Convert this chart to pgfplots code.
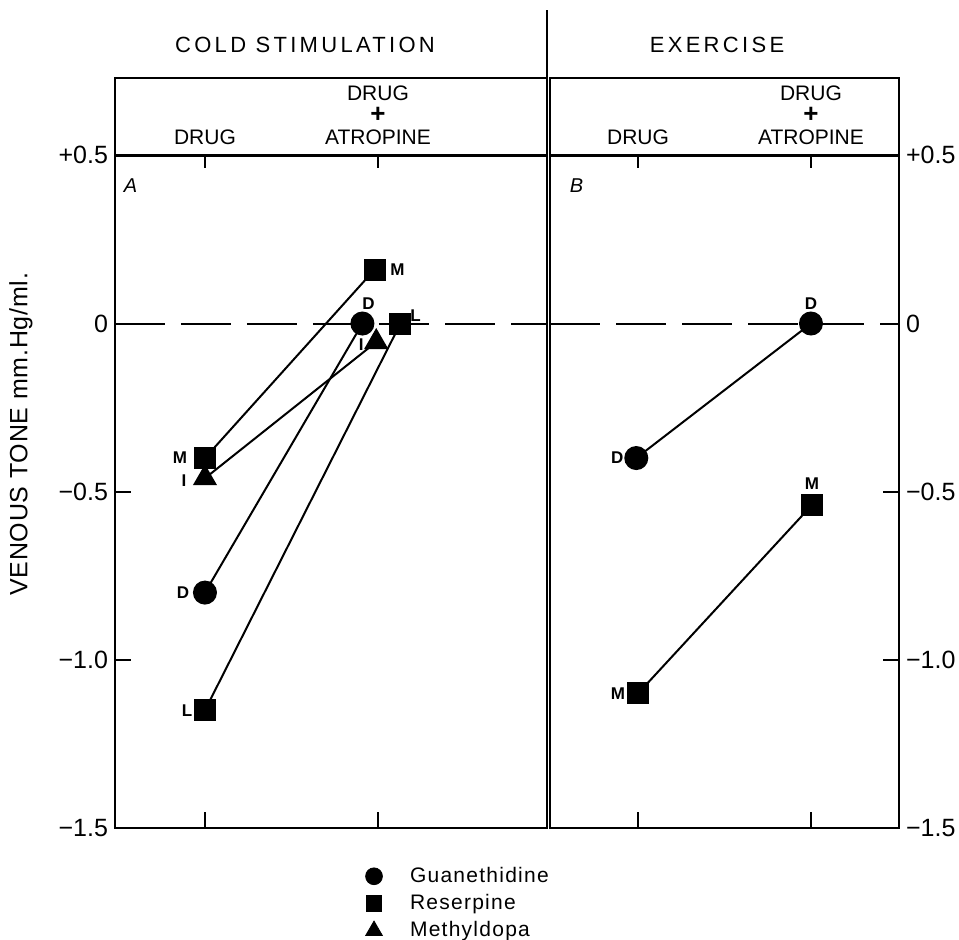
\documentclass[border=0pt]{standalone}
\usepackage{fontspec}
\setmainfont{Liberation Sans}
\newfontfamily\spaced[LetterSpace=15]{Liberation Sans}
\newfontfamily\ylabfont[LetterSpace=3]{Liberation Sans}
\newfontfamily\legfont[LetterSpace=6]{Liberation Sans}
\usepackage{pgfplots}
\pgfplotsset{compat=1.18}

\pgfplotsset{
  panel/.style={
    scale only axis, height=375pt,
    ymin=-1.5, ymax=0.73,
    clip=false,
    axis line style={line width=1.2pt},
    xtick={0,1}, xticklabels={}, xtick pos=bottom,
    ytick={-1.5,-1,-0.5,0,0.5},
    yticklabels={−1.5,−1.0,−0.5,0,+0.5},
    tick align=inside, major tick length=8pt,
    tick style={line width=1pt, black},
    yticklabel style={font=\fontsize{12.5}{13}\selectfont},
  },
  conn/.style={black, line width=1pt, mark options={fill=black, solid}},
  zeroline/.style={black, line width=1pt, dash pattern=on 25pt off 8pt, forget plot},
}
\tikzset{
  plabel/.style={font=\fontsize{8.5}{8.5}\selectfont\bfseries, inner sep=0pt},
  catlabel/.style={font=\fontsize{10.5}{11}\selectfont, align=center, anchor=south, inner sep=0pt, yshift=5pt},
}
\newcommand{\bigplus}{{\fontsize{13}{11}\selectfont\textbf{+}}}

\begin{document}
\begin{tikzpicture}
\useasboundingbox (-57.5pt,-55.5pt) rectangle (422pt,414pt);

% ---------- left panel: cold stimulation ----------
\begin{axis}[panel, name=left,
  at={(0pt,0pt)}, anchor=south west, width=216pt,
  xmin=-0.52, xmax=1.977,
  ytick pos=left,
  ylabel={\ylabfont VENOUS TONE mm.Hg/ml.},
  ylabel style={at={(axis description cs:-0.218,0.525)}, anchor=center, font=\fontsize{12.5}{13}\selectfont},
  legend style={at={(axis description cs:0.557,-0.041)}, anchor=north west, draw=none, fill=none,
    font=\legfont\fontsize{10.5}{12}\selectfont, row sep=0.5pt,
    legend cell align=left},
  legend image code/.code={\path[draw=none, fill=none] (0pt,-2pt) rectangle (22pt,2pt); \draw[#1] plot coordinates {(6pt,0pt)};},
]
\addplot[zeroline] coordinates {(-0.52,0) (1.977,0)};
% Guanethidine (D)
\addplot[conn, mark=*, mark size=5.5pt, forget plot] coordinates {(0,-0.80) (0.91,0)};
% Reserpine (M)
\addplot[conn, mark=square*, mark size=5pt, forget plot] coordinates {(0,-0.40) (0.98,0.16)};
% Reserpine (L)
\addplot[conn, mark=square*, mark size=5pt, forget plot] coordinates {(0,-1.15) (1.13,0)};
% Methyldopa (I)
\addplot[conn, mark=triangle*, mark size=6pt, forget plot] coordinates {(0,-0.46) (0.99,-0.055)};

\addlegendimage{only marks, mark=*, mark size=4.2pt, fill=black}
\addlegendentry{Guanethidine}
\addlegendimage{only marks, mark=square*, mark size=3.8pt, fill=black}
\addlegendentry{Reserpine}
\addlegendimage{only marks, mark=triangle*, mark size=4.8pt, fill=black}
\addlegendentry{Methyldopa}

% header strip line and top ticks
\draw[line width=1.2pt] (axis cs:-0.52,0.5) -- (axis cs:1.977,0.5);
\draw[line width=1pt] (axis cs:0,0.5) -- ++(0pt,-6.5pt);
\draw[line width=1pt] (axis cs:1,0.5) -- ++(0pt,-6.5pt);
\node[catlabel] at (axis cs:0,0.5) {DRUG};
\node[catlabel] at (axis cs:1,0.5) {DRUG\\\bigplus\\ATROPINE};
% divider extension
\draw[line width=1.2pt] (rel axis cs:1,1) -- ++(0pt,34pt);

% point letters
\node[plabel, xshift=-12.5pt] at (axis cs:0,-0.40) {M};
\node[plabel, xshift=-10.5pt, yshift=-1pt] at (axis cs:0,-0.46) {I};
\node[plabel, xshift=-11pt] at (axis cs:0,-0.80) {D};
\node[plabel, xshift=-9pt] at (axis cs:0,-1.15) {L};
\node[plabel, xshift=11.5pt] at (axis cs:0.98,0.16) {M};
\node[plabel, xshift=3pt, yshift=10pt] at (axis cs:0.91,0) {D};
\node[plabel, xshift=7.5pt, yshift=4pt] at (axis cs:1.13,0) {L};
\node[plabel, xshift=-7.5pt, yshift=-1.5pt] at (axis cs:0.99,-0.055) {I};
\node[font=\itshape\fontsize{10}{10}\selectfont] at (axis cs:-0.43,0.41) {A};
\end{axis}

% ---------- right panel: exercise ----------
\begin{axis}[panel, name=right,
  at={(217.5pt,0pt)}, anchor=south west, width=174.5pt,
  xmin=-0.509, xmax=1.509,
  ytick pos=right, yticklabel pos=right,
]
\addplot[zeroline] coordinates {(-0.509,0) (1.509,0)};
% Guanethidine (D)
\addplot[conn, mark=*, mark size=5.5pt] coordinates {(-0.01,-0.40) (1,0)};
% Reserpine (M)
\addplot[conn, mark=square*, mark size=5pt] coordinates {(0,-1.10) (1.005,-0.54)};

\draw[line width=1.2pt] (axis cs:-0.509,0.5) -- (axis cs:1.509,0.5);
\draw[line width=1pt] (axis cs:0,0.5) -- ++(0pt,-6.5pt);
\draw[line width=1pt] (axis cs:1,0.5) -- ++(0pt,-6.5pt);
\node[catlabel] at (axis cs:0,0.5) {DRUG};
\node[catlabel] at (axis cs:1,0.5) {DRUG\\\bigplus\\ATROPINE};

\node[plabel, xshift=-9.5pt] at (axis cs:-0.01,-0.40) {D};
\node[plabel, yshift=10pt] at (axis cs:1,0) {D};
\node[plabel, xshift=-10pt] at (axis cs:0,-1.10) {M};
\node[plabel, yshift=10.5pt] at (axis cs:1.005,-0.54) {M};
\node[font=\itshape\fontsize{10}{10}\selectfont] at (axis cs:-0.355,0.41) {B};
\end{axis}

% panel titles
\node[font=\spaced\fontsize{11}{12}\selectfont] at (95pt,391.5pt) {COLD STIMULATION};
\node[font=\spaced\fontsize{11}{12}\selectfont] at (301pt,391.5pt) {EXERCISE};
\end{tikzpicture}
\end{document}
